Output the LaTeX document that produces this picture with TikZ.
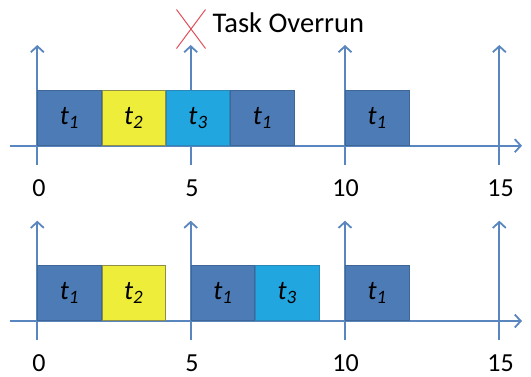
\documentclass[tikz,border=0pt]{standalone}
\usepackage{fontspec}
\setmainfont{Carlito}
\usetikzlibrary{arrows.meta,shapes.misc}

\definecolor{axisblue}{HTML}{5A86BF}
\definecolor{taskone}{HTML}{4C7BB6}
\definecolor{taskoneedge}{HTML}{3E6797}
\definecolor{tasktwo}{HTML}{EEEE3A}
\definecolor{tasktwoedge}{HTML}{8E8E48}
\definecolor{taskthree}{HTML}{22A6DF}
\definecolor{taskthreeedge}{HTML}{2A87B8}
\definecolor{overrun}{HTML}{E0505A}

\begin{document}
\begin{tikzpicture}[x=1bp,y=-1bp,
  axis/.style={draw=axisblue, line width=1.8bp,
    -{Straight Barb[length=6bp,width=13bp,line width=1.8bp]}},
  task/.style={anchor=south west, minimum width=63.5bp, minimum height=55bp,
    inner sep=0pt, line width=0.8bp, font=\fontsize{27bp}{30bp}\selectfont\itshape},
  tone/.style={task, fill=taskone, draw=taskoneedge},
  ttwo/.style={task, fill=tasktwo, draw=tasktwoedge},
  tthree/.style={task, fill=taskthree, draw=taskthreeedge},
  tick/.style={font=\fontsize{26bp}{30bp}\selectfont, inner sep=0pt},
]
\useasboundingbox (0,0) rectangle (531,376);

% ---------- upper schedule (with overrun) ----------
\coordinate (ua0) at (10,145.7);   \coordinate (ua1) at (522,145.7);
\draw[axis] (ua0) -- (ua1);
\foreach \i/\x in {0/37.3,5/190.7,10/345,15/499.3}{
  \coordinate (ub\i) at (\x,165);
  \coordinate (ut\i) at (\x,45);
  \draw[axis] (ub\i) -- (ut\i);
}
\node[tone]   (u1) at (37.3,145.7)  {t\textsubscript{1}};
\node[ttwo]   (u2) at (u1.south east) {t\textsubscript{2}};
\node[tthree] (u3) at (u2.south east) {t\textsubscript{3}};
\node[tone]   (u4) at (u3.south east) {t\textsubscript{1}};
\node[tone]   (u5) at (345,145.7)   {t\textsubscript{1}};

\node[tick] (ul0)  at (39,188.5)  {0};
\node[tick] (ul5)  at (192,188.5) {5};
\node[tick] (ul10) at (345.5,188.5) {10};
\node[tick] (ul15) at (500.5,188.5) {15};

% overrun marker
\node[cross out, draw=overrun, line width=1bp, minimum width=28bp,
  minimum height=38bp, inner sep=0pt] (ovx) at (191,29) {};
\node[anchor=base west, inner sep=0pt, font=\fontsize{28.5bp}{32bp}\selectfont]
  (ovt) at (212.5,32.5) {Task Overrun};

% ---------- lower schedule ----------
\coordinate (la0) at (10,321);   \coordinate (la1) at (522,321);
\draw[axis] (la0) -- (la1);
\foreach \i/\x in {0/37.3,5/190.7,10/345,15/499.3}{
  \coordinate (lb\i) at (\x,340);
  \coordinate (lt\i) at (\x,220.7);
  \draw[axis] (lb\i) -- (lt\i);
}
\node[tone]   (l1) at (37.3,321)  {t\textsubscript{1}};
\node[ttwo]   (l2) at (l1.south east) {t\textsubscript{2}};
\node[tone]   (l3) at (190.7,321) {t\textsubscript{1}};
\node[tthree] (l4) at (l3.south east) {t\textsubscript{3}};
\node[tone]   (l5) at (345,321)   {t\textsubscript{1}};

\node[tick] (ll0)  at (39,363.5)  {0};
\node[tick] (ll5)  at (192,363.5) {5};
\node[tick] (ll10) at (345.5,363.5) {10};
\node[tick] (ll15) at (500.5,363.5) {15};
\end{tikzpicture}
\end{document}
